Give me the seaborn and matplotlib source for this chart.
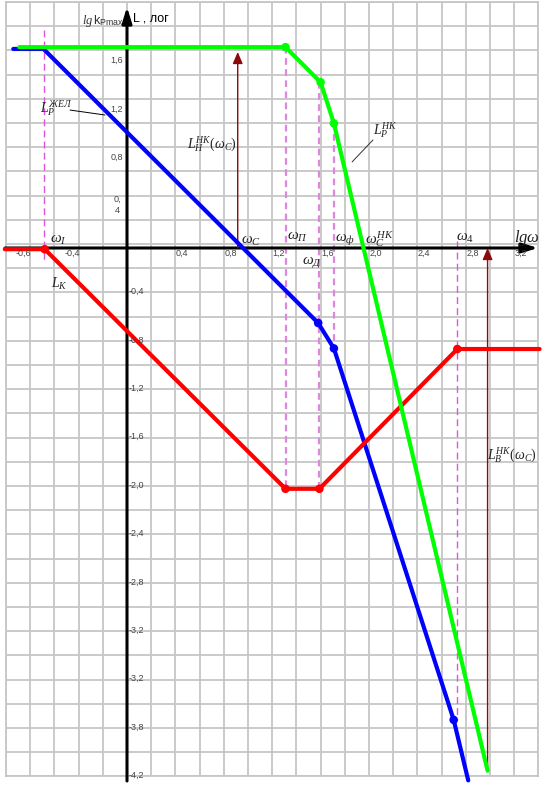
import numpy as np
import pandas as pd
import matplotlib
matplotlib.use("Agg")
import matplotlib.pyplot as plt
import seaborn as sns

# ======================
# Данные ЛАЧХ (lg w, L)
# ======================
# L_P^НК - нескорректированная
green_x = [-0.89, 1.31, 1.60, 1.71, 2.98]
green_y = [1.66, 1.66, 1.37, 1.03, -4.32]
# L_P^ЖЕЛ - желаемая
blue_x = [-0.94, -0.69, 1.58, 1.71, 2.70, 2.82]
blue_y = [1.645, 1.645, -0.62, -0.83, -3.90, -4.40]
# L_K - корректирующее звено
red_x = [-1.01, -0.68, 1.31, 1.59, 2.73, 3.41]
red_y = [-0.01, -0.01, -1.99, -1.99, -0.835, -0.835]

# точки излома (индексы)
green_pts = [1, 2, 3]
blue_pts = [2, 3, 4]
red_pts = [1, 2, 3, 4]

omega_c = 0.915

xtick_vals = [-0.8, -0.4, 0.4, 0.8, 1.2, 1.6, 2.0, 2.4, 2.8, 3.2]
xtick_labels = ["-0,6", "-0,4", "0,4", "0,8", "1,2", "1,6", "2,0", "2,4", "2,8", "3,2"]
ytick_pos_vals = [1.6, 1.2, 0.8, 0.4]
ytick_pos_labels = ["1,6", "1,2", "0,8", "0,\n4"]
ytick_neg_vals = [-0.4, -0.8, -1.2, -1.6, -2.0, -2.4, -2.8, -3.2, -3.6, -4.0, -4.4]
ytick_neg_labels = ["-0,4", "-0,8", "-1,2", "-1,6", "-2,0", "-2,4", "-2,8",
                    "-3,2", "-3,2", "-3,8", "-4,2"]

# ======================
# Стиль
# ======================
sns.set_style("white")
plt.rcParams["font.family"] = ["Liberation Sans", "DejaVu Sans"]
plt.rcParams["mathtext.fontset"] = "custom"
plt.rcParams["mathtext.rm"] = "Liberation Serif"
plt.rcParams["mathtext.it"] = "Liberation Serif:italic"
plt.rcParams["mathtext.sf"] = "Liberation Sans"

fig = plt.figure(figsize=(5.45, 7.89), dpi=100)
ax = fig.add_axes([6 / 545, 12.6 / 789, 532.4 / 545, 774.4 / 789])
ax.set_xlim(-1.0, 3.4)
ax.set_ylim(-4.367, 2.033)

# сетка
grid_c = "#c6c6c6"
ax.set_xticks(np.arange(-5, 18) * 0.2)
ax.set_yticks(np.arange(-22, 11) * 0.2 + 0.033)
ax.grid(True, color=grid_c, lw=1.3)
ax.tick_params(axis="x", direction="out", length=4, width=1.3, color=grid_c,
               labelbottom=False)
ax.tick_params(axis="y", length=0, labelleft=False)
for sp in ax.spines.values():
    sp.set_color(grid_c)
    sp.set_linewidth(1.3)
ax.set_axisbelow(True)

# оси со стрелками
head = dict(arrowstyle="-|>,head_length=0.55,head_width=0.17", color="black",
            lw=2.2, mutation_scale=17, shrinkA=0, shrinkB=0)
ax.annotate("", xy=(3.397, 0), xytext=(-1.008, 0), arrowprops=head,
            annotation_clip=False, zorder=3)
ax.annotate("", xy=(0, 1.992), xytext=(0, -4.405), arrowprops=head,
            annotation_clip=False, zorder=3)

# пунктирные вертикали на частотах излома
dash_lines = [
    (blue_x[1], 1.80, -0.12, "#e055e0", 1.0, (5, 3)),
    (red_x[2], green_y[1], red_y[2], "#dd88dd", 1.6, (3, 2)),
    (red_x[3], green_y[2], red_y[3], "#dd88dd", 1.6, (3, 2)),
    (green_x[3], green_y[3], blue_y[3], "#dd88dd", 1.6, (3, 2)),
    (red_x[4], 0.06, blue_y[4], "#e055e0", 1.0, (5, 3)),
]
for x, y0, y1, c, lw, ds in dash_lines:
    ax.plot([x, x], [y0, y1], color=c, lw=lw, dashes=ds, zorder=2)

# ЛАЧХ
df = pd.concat([
    pd.DataFrame({"lgw": blue_x, "L": blue_y, "curve": "жел"}),
    pd.DataFrame({"lgw": red_x, "L": red_y, "curve": "K"}),
    pd.DataFrame({"lgw": green_x, "L": green_y, "curve": "нк"}),
], ignore_index=True)
palette = {"жел": "#0000ff", "K": "#ff0000", "нк": "#00ff00"}
sns.lineplot(data=df, x="lgw", y="L", hue="curve", hue_order=["жел", "K", "нк"],
             palette=palette, sort=False, estimator=None, lw=3.0, legend=False,
             ax=ax, zorder=4)
for ln in ax.lines:
    ln.set_clip_on(False)

for xs, ys, idx, c in [(blue_x, blue_y, blue_pts, "#0000ff"),
                       (red_x, red_y, red_pts, "#ff0000"),
                       (green_x, green_y, green_pts, "#00ff00")]:
    sns.scatterplot(x=[xs[i] for i in idx], y=[ys[i] for i in idx], color=c,
                    s=38, edgecolor="none", ax=ax, zorder=5, legend=False)

# стрелки L_Н и L_В
red_arrow = dict(arrowstyle="-|>,head_length=0.7,head_width=0.3", color="#8b0a0a",
                 lw=1.0, mutation_scale=10, shrinkA=0, shrinkB=0)
ax.annotate("", xy=(omega_c, 1.62), xytext=(omega_c, 0), arrowprops=red_arrow, zorder=3)
ax.annotate("", xy=(green_x[-1], 0.0), xytext=(green_x[-1], green_y[-1] + 0.02),
            arrowprops=red_arrow, zorder=3)

# подписи делений
tick_c = "#444444"
for v, t in zip(xtick_vals, xtick_labels):
    ax.text(v + (0.005 if v > 0 else 0.01), -0.042, t, ha="left" if v > 0 else "right",
            va="center", fontsize=6.5, color=tick_c, zorder=6)
for v, t in zip(ytick_pos_vals, ytick_pos_labels):
    if "\n" in t:
        ax.text(-0.083, v - 0.045, t, ha="center", va="center", fontsize=6.5,
                color=tick_c, linespacing=1.3, zorder=6)
    else:
        ax.text(-0.033, v - 0.05, t, ha="right", va="center", fontsize=6.5,
                color=tick_c, zorder=6)
for v, t in zip(ytick_neg_vals, ytick_neg_labels):
    ax.text(0.017, v + 0.04, t, ha="left", va="center", fontsize=6.5,
            color=tick_c, zorder=6)

# обозначения
txt_c = "#222222"
labels = [
    (r"$\omega_{I}$", -0.636, 0.045, 11),
    (r"$\omega_{C}$", 0.942, 0.037, 11),
    (r"$\omega_{П}$", 1.322, 0.070, 11),
    (r"$\omega_{Д}$", 1.446, -0.128, 11),
    (r"$\omega_{ф}$", 1.719, 0.062, 11),
    (r"$\omega_{C}^{НК}$", 1.967, 0.037, 11),
    (r"$\omega_{4}$", 2.719, 0.062, 11),
    (r"$lg\omega$", 3.198, 0.05, 12),
    (r"$L_{K}$", -0.628, -0.331, 10),
    (r"$L_{Р}^{ЖЕЛ}$", -0.719, 1.116, 10),
    (r"$L_{Р}^{НК}$", 2.033, 0.934, 10),
    (r"$L_{Н}^{НК}(\omega_{C})$", 0.496, 0.826, 10),
    (r"$L_{В}^{НК}(\omega_{C})$", 2.975, -1.744, 10),
]
for t, x, y, fs in labels:
    ax.text(x, y, t, ha="left", va="baseline", fontsize=fs, color=txt_c, zorder=6)

# выноски
ax.plot([-0.471, -0.182], [1.140, 1.099], color="black", lw=0.7, zorder=6)
ax.plot([2.033, 1.860], [0.893, 0.711], color="#333333", lw=0.7, zorder=6)

ax.text(-0.372, 1.851, r"$lg\,\mathsf{k}_{\mathsf{Pmax}}$", ha="left", va="baseline",
        fontsize=9, color="#333333", zorder=6)
ax.text(0.05, 1.868, "L , лог", ha="left", va="baseline", fontsize=9,
        color="black", zorder=6)

fig.savefig("out.png", dpi=100)
